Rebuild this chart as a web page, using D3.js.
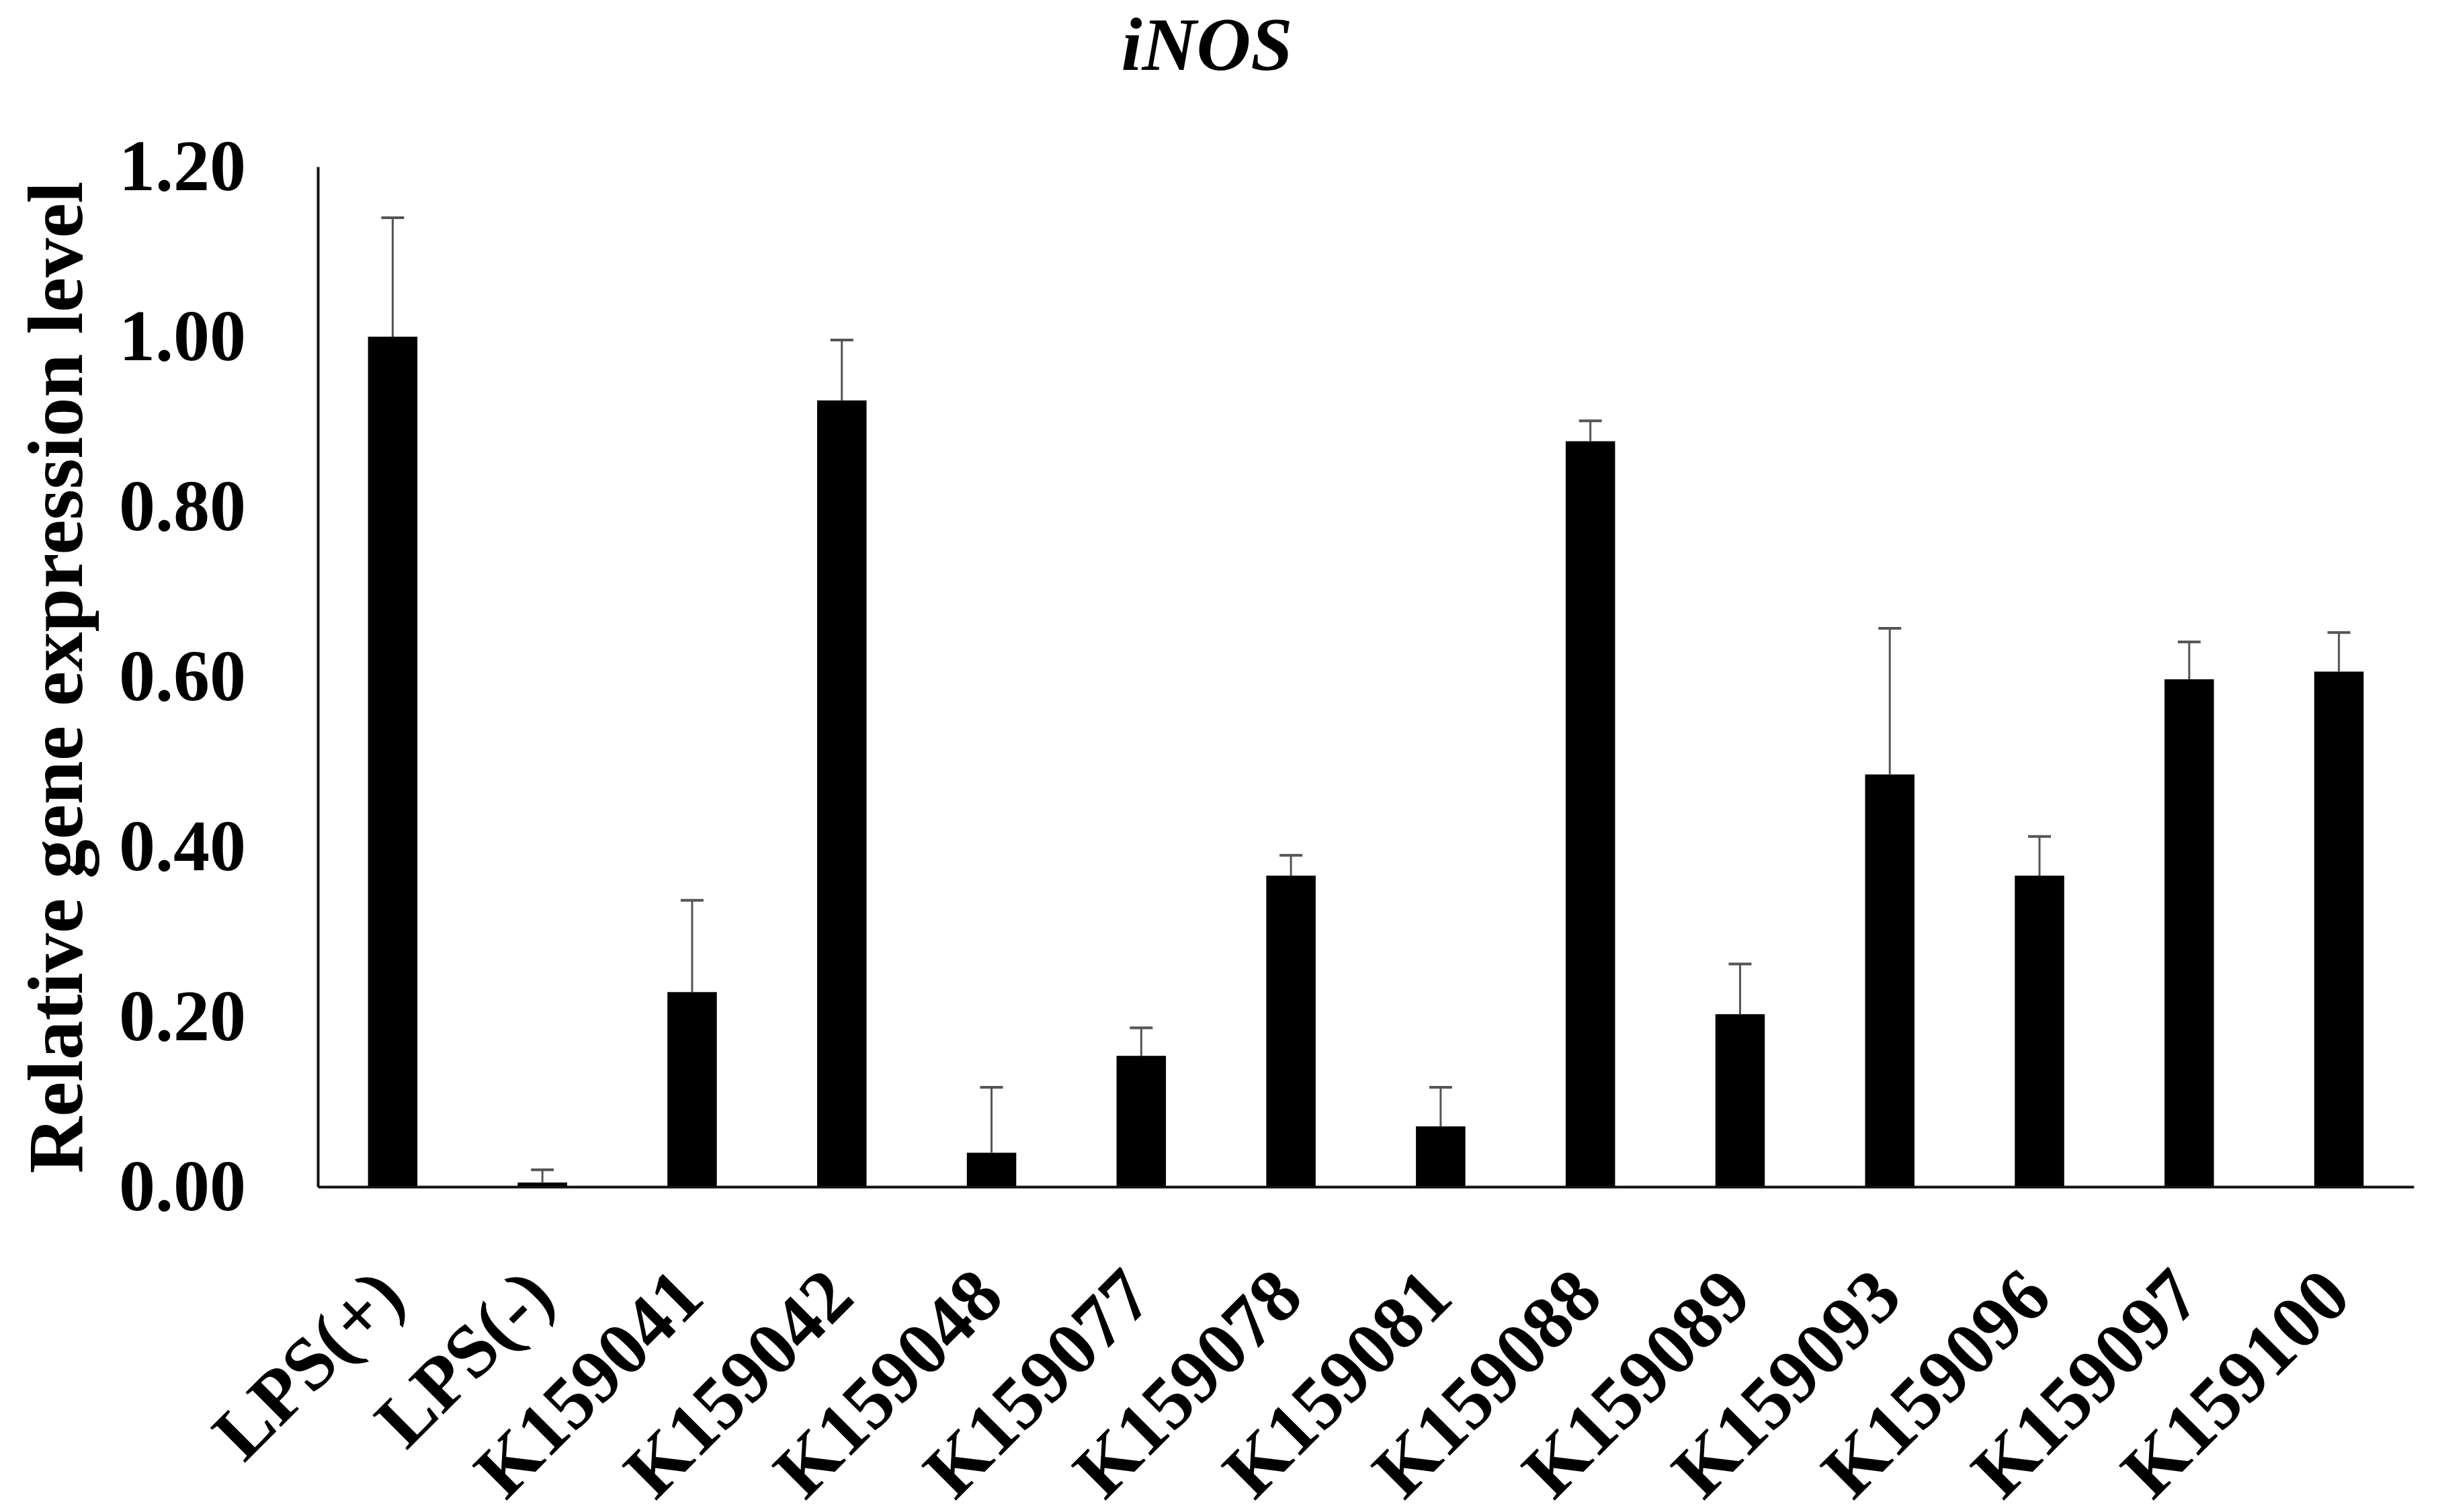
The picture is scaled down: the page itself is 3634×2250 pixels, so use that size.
<!DOCTYPE html>
<html>
<head>
<meta charset="utf-8">
<script src="https://cdn.jsdelivr.net/npm/d3@7"></script>
<style>
  html, body { margin: 0; padding: 0; background: #fff; }
  svg { display: block; }
  text { font-family: "Liberation Serif", "Times New Roman", serif; font-weight: bold; fill: #000; }
</style>
</head>
<body>
<div id="chart"></div>
<script>
var categories = ["LPS(+)","LPS(-)","K159041","K159042","K159048","K159077","K159078",
                  "K159081","K159088","K159089","K159093","K159096","K159097","K159100"];
var means  = [1.00, 0.005, 0.229, 0.925, 0.040, 0.154, 0.366, 0.071, 0.877, 0.203, 0.485, 0.366, 0.597, 0.606];
var errors = [0.140, 0.015, 0.108, 0.071, 0.077, 0.033, 0.024, 0.046, 0.024, 0.059, 0.172, 0.046, 0.044, 0.046];
var yTicks = [0, 0.2, 0.4, 0.6, 0.8, 1.0, 1.2];

var W = 3634, H = 2250;
var m = {l:473, r:42, t:248, b:484};

var svg = d3.select('#chart').append('svg')
            .attr('width', W)
            .attr('height', H);

var x = d3.scaleBand()
          .domain(categories)
          .range([m.l, W-m.r])
          .paddingInner(0.67)
          .paddingOuter(0.335);

var y = d3.scaleLinear()
          .domain([0, 1.2])
          .range([H-m.b, m.t]);

var data = categories.map((c,i) => ({name:c, v:means[i], e:errors[i]}));

// bars
svg.append('g')
    .attr('class', 'bars')
    .selectAll('rect')
    .data(data)
    .enter()
    .append('rect')
      .attr('x', d => x(d.name))
      .attr('y', d => y(d.v))
      .attr('width', x.bandwidth())
      .attr('height', d => y(0)-y(d.v))
      .attr('fill', '#000');

// error bars (upper only)
var eb = svg.append('g').attr('class', 'errors')
            .selectAll('g').data(data).enter().append('g');
eb.append('line')
    .attr('x1', d => x(d.name)+x.bandwidth()/2)
    .attr('x2', d => x(d.name)+x.bandwidth()/2)
    .attr('y1', d => y(d.v))
    .attr('y2', d => y(d.v+d.e))
    .attr('stroke', '#555').attr('stroke-width', 3);
eb.append('line')
    .attr('x1', d => x(d.name)+x.bandwidth()/2-17)
    .attr('x2', d => x(d.name)+x.bandwidth()/2+17)
    .attr('y1', d => y(d.v+d.e))
    .attr('y2', d => y(d.v+d.e))
    .attr('stroke', '#555').attr('stroke-width', 4);

// axes
var y_axis = d3.axisLeft(y).tickValues(yTicks).tickFormat(d3.format('.2f'))
               .tickSize(0).tickSizeOuter(0).tickPadding(107);
var x_axis = d3.axisBottom(x).tickSize(0).tickSizeOuter(0).tickFormat(() => '');

var gy = svg.append('g')
    .attr('class', 'axis y')
    .attr('transform', 'translate('+m.l+',0)')
    .call(y_axis);
gy.select('.domain').attr('stroke', '#111').attr('stroke-width', 4);
gy.selectAll('text')
    .style('font-size', '108px')
    .style('font-family', '"Liberation Serif", serif')
    .style('font-weight', 'bold')
    .attr('fill', '#000');

var gx = svg.append('g')
    .attr('class', 'axis x')
    .attr('transform', 'translate(0,'+(H-m.b)+')')
    .call(x_axis);
gx.select('.domain').attr('stroke', '#111').attr('stroke-width', 4);

// rotated category labels
svg.append('g')
    .attr('class', 'xlabels')
    .selectAll('text')
    .data(categories)
    .enter()
    .append('text')
      .attr('transform', d => 'translate('+(x(d)+x.bandwidth()/2+22)+','+1935+') rotate(-45)')
      .attr('text-anchor', 'end')
      .style('font-size', '112px')
      .text(d => d);

// y label
svg.append('text')
    .attr('transform', 'translate(122,1008) rotate(-90)')
    .attr('text-anchor', 'middle')
    .style('font-size', '117px')
    .text('Relative gene expression level');

// title
svg.append('text')
    .attr('x', 1796)
    .attr('y', 104)
    .attr('text-anchor', 'middle')
    .style('font-size', '112px')
    .style('font-style', 'italic')
    .text('iNOS');
</script>
</body>
</html>
